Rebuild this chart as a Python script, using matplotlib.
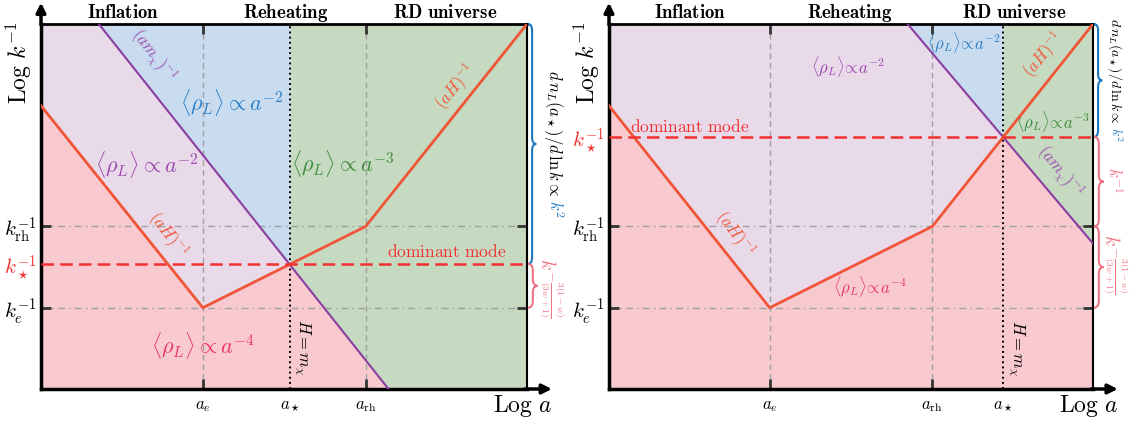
import numpy as np
import matplotlib
matplotlib.use('Agg')
import matplotlib.pyplot as plt
from matplotlib.path import Path
from matplotlib.patches import PathPatch

plt.rcParams['mathtext.fontset'] = 'cm'
plt.rcParams['font.family'] = 'DejaVu Serif'

# axis extents: log a and log k^-1 in arbitrary units
X_MAX, Y_MAX = 10.0, 7.5

# left panel: the dominant mode re-enters during reheating
left_aH_x = [0.0, 3.33, 6.68, 10.0]
left_aH_y = [5.82, 1.67, 3.34, 7.5]
left_mx_x = [1.19, 7.15]
left_mx_y = [7.5, 0.0]
left_a = [3.33, 5.12, 6.68]      # a_e, a_star, a_rh
left_k = [1.67, 2.57, 3.34]      # k_e, k_star, k_rh

# right panel: the dominant mode re-enters in the RD era
right_aH_x = [0.0, 3.32, 6.68, 10.0]
right_aH_y = [5.82, 1.67, 3.34, 7.5]
right_mx_x = [6.17, 10.0]
right_mx_y = [7.5, 2.99]
right_a = [3.32, 8.14, 6.68]
right_k = [1.67, 5.18, 3.34]

a_labels = [r'$a_e$', r'$a_\star$', r'$a_{\rm rh}$']
k_labels = [r'$k_e^{-1}$', r'$k_\star^{-1}$', r'$k_{\rm rh}^{-1}$']
eras = [r'$\mathbf{Inflation}$', r'$\mathbf{Reheating}$', r'$\mathbf{RD\ universe}$']

PINK, LAV, BLUE, GREEN = '#f8cad0', '#e9daea', '#c8dbef', '#c6d9c1'
RED, DOM, PURPLE = '#f05538', '#f23030', '#8a3fa0'
C_PURP, C_BLUE, C_GREEN, C_CRIM = '#9a4aae', '#2a7fc8', '#3f8a3c', '#e8366a'
C_BRACE_B, C_BRACE_P = '#1a78c2', '#f07383'
GUIDE = '#a0a0a0'

fig = plt.figure(figsize=(11.37, 4.23), dpi=100)
ax1 = fig.add_axes([41 / 1137, 34 / 423, 486 / 1137, 365 / 423])
ax2 = fig.add_axes([609 / 1137, 34 / 423, 484 / 1137, 365 / 423])


def seg_angle(ax, x0, y0, x1, y1):
    p0 = ax.transData.transform((x0, y0))
    p1 = ax.transData.transform((x1, y1))
    return np.degrees(np.arctan2(p1[1] - p0[1], p1[0] - p0[0]))


def brace(ax, x0, y_lo, y_hi, w, color):
    ym = (y_lo + y_hi) / 2
    h = min(0.14, (y_hi - y_lo) / 4)
    xm = x0 + w / 2
    verts = [(x0, y_hi), (xm, y_hi), (xm, y_hi - h), (xm, ym + h),
             (xm, ym), (x0 + w, ym), (xm, ym), (xm, ym - h),
             (xm, y_lo + h), (xm, y_lo), (x0, y_lo)]
    codes = [Path.MOVETO, Path.CURVE3, Path.CURVE3, Path.LINETO,
             Path.CURVE3, Path.CURVE3, Path.CURVE3, Path.CURVE3,
             Path.LINETO, Path.CURVE3, Path.CURVE3]
    ax.add_patch(PathPatch(Path(verts, codes), fc='none', ec=color, lw=1.5,
                           clip_on=False, zorder=6))


def spectrum_label(ax, xc, yc, fs):
    black = r'$d\,n_L(a_\star)/d\,\ln k \propto$'
    t1 = ax.text(xc, yc, black, rotation=-90, rotation_mode='anchor',
                 ha='left', va='baseline', fontsize=fs, clip_on=False)
    t2 = ax.text(xc, yc, r'$k^2$', rotation=-90, rotation_mode='anchor',
                 ha='left', va='baseline', fontsize=fs, color=C_BLUE, clip_on=False)
    r = fig.canvas.get_renderer()
    l1 = t1.get_window_extent(r).height
    l2 = t2.get_window_extent(r).height
    gap = 3
    px, py = ax.transData.transform((xc, yc))
    top = py + (l1 + gap + l2) / 2
    inv = ax.transData.inverted()
    t1.set_position(inv.transform((px, top)))
    t2.set_position(inv.transform((px, top - l1 - gap)))


def panel(ax, aH_x, aH_y, mx_x, mx_y, a_vals, k_vals, era_x):
    a_e, a_st, a_rh = a_vals
    k_e, k_st, k_rh = k_vals
    ax.set_xlim(0, X_MAX)
    ax.set_ylim(0, Y_MAX)

    xg = np.union1d(np.linspace(0, X_MAX, 4001), [a_st])
    aH = np.interp(xg, aH_x, aH_y)
    slope = (mx_y[1] - mx_y[0]) / (mx_x[1] - mx_x[0])
    mx = np.clip(mx_y[0] + slope * (xg - mx_x[0]), 0, Y_MAX)
    ax.fill_between(xg, 0, np.minimum(aH, mx), color=PINK, lw=0, zorder=0)
    ax.fill_between(xg, aH, mx, where=(xg <= a_st) & (mx >= aH), color=LAV, lw=0, zorder=0)
    ax.fill_between(xg, mx, Y_MAX, where=xg <= a_st, color=BLUE, lw=0, zorder=0)
    ax.fill_between(xg, mx, Y_MAX, where=xg >= a_st, color=GREEN, lw=0, zorder=0)

    # guide lines
    for a in (a_e, a_rh):
        ax.axvline(a, color=GUIDE, lw=1, dashes=(4, 3), zorder=1)
    for k in (k_e, k_rh):
        ax.axhline(k, color=GUIDE, lw=1, dashes=(5, 3, 1, 3), zorder=1)
    ax.axvline(a_st, color='k', lw=1.4, ls=':', zorder=3)

    ax.plot(mx_x, mx_y, color=PURPLE, lw=1.5, zorder=3)
    ax.plot(aH_x, aH_y, color=RED, lw=2, zorder=4)
    ax.axhline(k_st, color=DOM, lw=1.8, dashes=(5, 2.5), zorder=5)

    # spines and arrows
    ax.spines['left'].set_linewidth(2.5)
    ax.spines['bottom'].set_linewidth(2.5)
    ax.spines['top'].set_linewidth(2)
    ax.spines['right'].set_linewidth(1.5)
    ax.annotate('', xy=(0, 1.066), xytext=(0, 0.99), xycoords='axes fraction',
                arrowprops=dict(arrowstyle='-|>', lw=2.5, color='k', mutation_scale=14),
                annotation_clip=False)
    ax.annotate('', xy=(1.057, 0), xytext=(0.99, 0), xycoords='axes fraction',
                arrowprops=dict(arrowstyle='-|>', lw=2.5, color='k', mutation_scale=14),
                annotation_clip=False)

    # ticks
    xo = np.argsort(a_vals)
    yo = np.argsort(k_vals)
    ax.set_xticks([a_vals[i] for i in xo], [a_labels[i] for i in xo], fontsize=12)
    ax.set_yticks([k_vals[i] for i in yo], [k_labels[i] for i in yo], fontsize=15)
    ax.tick_params(direction='in', length=7, width=2, color='#333333',
                   top=True, right=True)
    ax.tick_params(axis='x', pad=6)
    ax.tick_params(axis='y', pad=3)
    for t, i in zip(ax.xaxis.get_major_ticks(), xo):
        if i == 1:
            t.tick1line.set_visible(False)
            t.tick2line.set_visible(False)
    for t, lab, i in zip(ax.yaxis.get_major_ticks(), ax.get_yticklabels(), yo):
        if i == 1:
            t.tick1line.set_visible(False)
            t.tick2line.set_visible(False)
            lab.set_color(DOM)

    for fx, era in zip(era_x, eras):
        ax.text(fx, 1.031, era, transform=ax.transAxes, ha='center', va='center', fontsize=13.5)
    ax.text(-0.046, 0.895, r'$\mathrm{Log}\ k^{-1}$', transform=ax.transAxes,
            rotation=90, ha='center', va='center', fontsize=17)
    ax.text(0.99, -0.046, r'$\mathrm{Log}\ a$', transform=ax.transAxes,
            ha='center', va='center', fontsize=17)

    a_ang = [seg_angle(ax, aH_x[i], aH_y[i], aH_x[i + 1], aH_y[i + 1]) for i in range(3)]
    m_ang = seg_angle(ax, mx_x[0], mx_y[0], mx_x[1], mx_y[1])
    return a_ang, m_ang


rho2 = r'$\langle\rho_L\rangle \propto a^{-2}$'
rho3 = r'$\langle\rho_L\rangle \propto a^{-3}$'
rho4 = r'$\langle\rho_L\rangle \propto a^{-4}$'
rho2s = r'$\langle\rho_L\rangle\!\propto\! a^{-2}$'
rho3s = r'$\langle\rho_L\rangle\!\propto\! a^{-3}$'
rho4s = r'$\langle\rho_L\rangle\!\propto\! a^{-4}$'
kexp = r'$k^{-\frac{3(1-w)}{(3w+1)}}$'
kw = dict(ha='center', va='center', rotation_mode='anchor')

# ---- left panel
aa, ma = panel(ax1, left_aH_x, left_aH_y, left_mx_x, left_mx_y, left_a, left_k,
               [0.169, 0.504, 0.831])
ax1.text(2.31, 6.84, r'$(am_\chi)^{-1}$', color=C_PURP, fontsize=12, rotation=ma, **kw)
ax1.text(2.60, 3.16, r'$(aH)^{-1}$', color=RED, fontsize=12, rotation=aa[0], **kw)
ax1.text(8.55, 6.19, r'$(aH)^{-1}$', color=RED, fontsize=12, rotation=aa[2], **kw)
ax1.text(3.93, 5.88, rho2, color=C_BLUE, fontsize=16, **kw)
ax1.text(2.18, 4.62, rho2, color=C_PURP, fontsize=16, **kw)
ax1.text(6.21, 4.64, rho3, color=C_GREEN, fontsize=16, **kw)
ax1.text(3.33, 0.90, rho4, color=C_CRIM, fontsize=16, **kw)
ax1.text(5.38, 0.86, r'$H = m_\chi$', fontsize=12, rotation=-90, **kw)
ax1.text(8.35, 2.80, r'$\mathrm{dominant\ mode}$', color=DOM, fontsize=12.5, **kw)
brace(ax1, 10.02, left_k[1], Y_MAX, 0.17, C_BRACE_B)
brace(ax1, 10.02, left_k[0], left_k[1], 0.2, C_BRACE_P)
spectrum_label(ax1, 10.45, (left_k[1] + Y_MAX) / 2, 12)
ax1.text(10.5, 2.08, kexp, color=C_BRACE_P, fontsize=14,
         rotation=-90, clip_on=False, **kw)

# ---- right panel
aa, ma = panel(ax2, right_aH_x, right_aH_y, right_mx_x, right_mx_y, right_a, right_k,
               [0.167, 0.498, 0.837])
ax2.text(9.31, 4.47, r'$(am_\chi)^{-1}$', color=C_PURP, fontsize=12, rotation=ma, **kw)
ax2.text(2.59, 3.18, r'$(aH)^{-1}$', color=RED, fontsize=12, rotation=aa[0], **kw)
ax2.text(8.98, 6.85, r'$(aH)^{-1}$', color=RED, fontsize=12, rotation=aa[2], **kw)
ax2.text(4.93, 6.62, rho2s, color=C_PURP, fontsize=12, **kw)
ax2.text(7.33, 7.12, rho2s, color=C_BLUE, fontsize=12, **kw)
ax2.text(9.17, 5.49, rho3s, color=C_GREEN, fontsize=12, **kw)
ax2.text(5.39, 2.10, rho4s, color=C_CRIM, fontsize=12, **kw)
ax2.text(8.42, 0.84, r'$H = m_\chi$', fontsize=12, rotation=-90, **kw)
ax2.text(1.67, 5.38, r'$\mathrm{dominant\ mode}$', color=DOM, fontsize=12.5, **kw)
brace(ax2, 10.02, right_k[1], Y_MAX, 0.17, C_BRACE_B)
brace(ax2, 10.02, right_k[2], right_k[1], 0.2, C_BRACE_P)
brace(ax2, 10.02, right_k[0], right_k[2], 0.2, C_BRACE_P)
spectrum_label(ax2, 10.37, (right_k[1] + Y_MAX) / 2, 10)
ax2.text(10.42, 4.29, r'$k^{-1}$', color=C_BRACE_P, fontsize=12,
         rotation=-90, clip_on=False, **kw)
ax2.text(10.45, 2.57, kexp, color=C_BRACE_P, fontsize=14,
         rotation=-90, clip_on=False, **kw)

fig.savefig('out.png', dpi=100)
